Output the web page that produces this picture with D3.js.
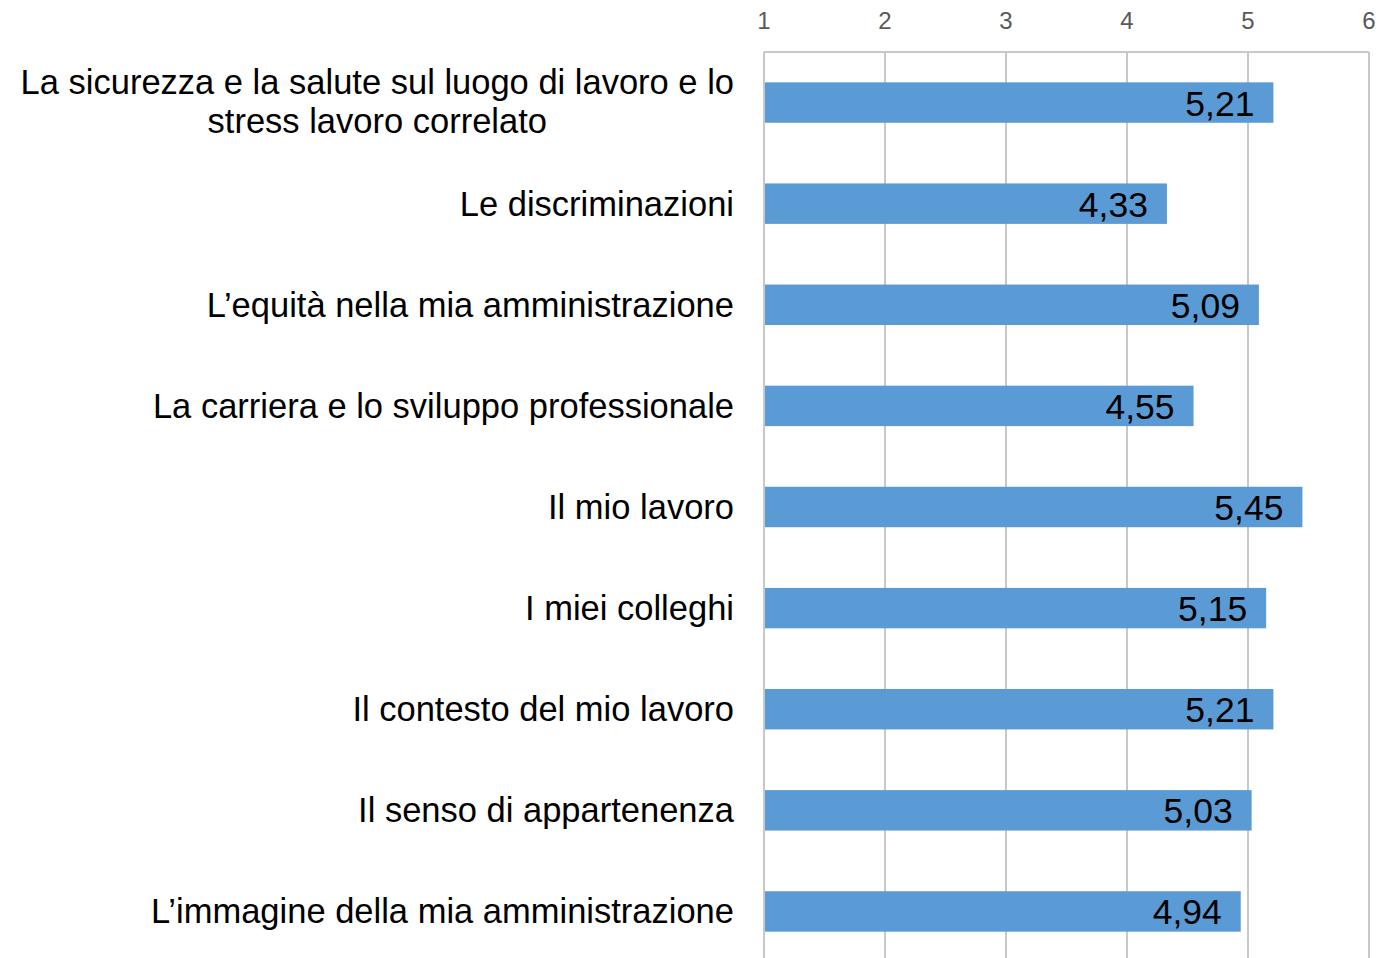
<!DOCTYPE html>
<html>
<head>
<meta charset="utf-8">
<script src="https://cdn.jsdelivr.net/npm/d3@7"></script>
<style>
body { margin: 0; background: #fff; }
text { font-family: "Liberation Sans", Arial, sans-serif; }
</style>
</head>
<body>
<svg id="chart"></svg>
<script>
var width = 1394;
var height = 958;

var categories = [
    "La sicurezza e la salute sul luogo di lavoro e lo|stress lavoro correlato",
    "Le discriminazioni",
    "L\u2019equità nella mia amministrazione",
    "La carriera e lo sviluppo professionale",
    "Il mio lavoro",
    "I miei colleghi",
    "Il contesto del mio lavoro",
    "Il senso di appartenenza",
    "L\u2019immagine della mia amministrazione"
];
var values = [5.21, 4.33, 5.09, 4.55, 5.45, 5.15, 5.21, 5.03, 4.94];
var ticks = [1, 2, 3, 4, 5, 6];

var svg = d3.select("#chart")
    .attr("width", width)
    .attr("height", height);

var x = d3.scaleLinear()
    .domain([1, 6])
    .range([764, 1369]);

var y = d3.scaleBand()
    .domain(categories)
    .range([52, 962])
    .paddingInner(0.6)
    .paddingOuter(0.3);

// gridlines
svg.append("g")
    .selectAll("line")
    .data(ticks)
    .enter()
    .append("line")
    .attr("x1", function (d) { return x(d); })
    .attr("x2", function (d) { return x(d); })
    .attr("y1", 52)
    .attr("y2", height)
    .attr("stroke", "#c8c8c8")
    .attr("stroke-width", 2);

svg.append("line")
    .attr("x1", x(1))
    .attr("x2", x(6))
    .attr("y1", 52)
    .attr("y2", 52)
    .attr("stroke", "#c8c8c8")
    .attr("stroke-width", 2);

// top axis labels
svg.append("g")
    .selectAll("text")
    .data(ticks)
    .enter()
    .append("text")
    .attr("x", function (d) { return x(d); })
    .attr("y", 29)
    .attr("text-anchor", "middle")
    .attr("font-size", "24px")
    .attr("fill", "#595959")
    .text(function (d) { return d; });

// bars
svg.append("g")
    .selectAll("rect")
    .data(values)
    .enter()
    .append("rect")
    .attr("x", x(1) + 1)
    .attr("y", function (d, i) { return y(categories[i]); })
    .attr("width", function (d) { return x(d) - x(1) - 1; })
    .attr("height", y.bandwidth())
    .attr("fill", "#5b9bd5");

// value labels
svg.append("g")
    .selectAll("text")
    .data(values)
    .enter()
    .append("text")
    .attr("x", function (d) { return x(d) - 19; })
    .attr("y", function (d, i) { return y(categories[i]) + y.bandwidth() / 2 + 13; })
    .attr("text-anchor", "end")
    .attr("font-size", "35.5px")
    .attr("fill", "#000")
    .text(function (d) { return d.toFixed(2).replace(".", ","); });

// category labels
var labelRight = 734;
categories.forEach(function (c) {
    var lines = c.split("|");
    var cy = y(c) + y.bandwidth() / 2;
    var lh = 39;
    var g = svg.append("g");
    var texts = [];
    lines.forEach(function (l, j) {
        var t = g.append("text")
            .attr("y", cy + (j - (lines.length - 1) / 2) * lh + 12 - (lines.length > 1 ? 1 : 0))
            .attr("font-size", "34.5px")
            .attr("fill", "#000")
            .attr("text-anchor", "middle")
            .text(l);
        texts.push(t);
    });
    var maxW = d3.max(texts, function (t) { return t.node().getComputedTextLength(); });
    texts.forEach(function (t) {
        t.attr("x", labelRight - maxW / 2);
    });
});
</script>
</body>
</html>
